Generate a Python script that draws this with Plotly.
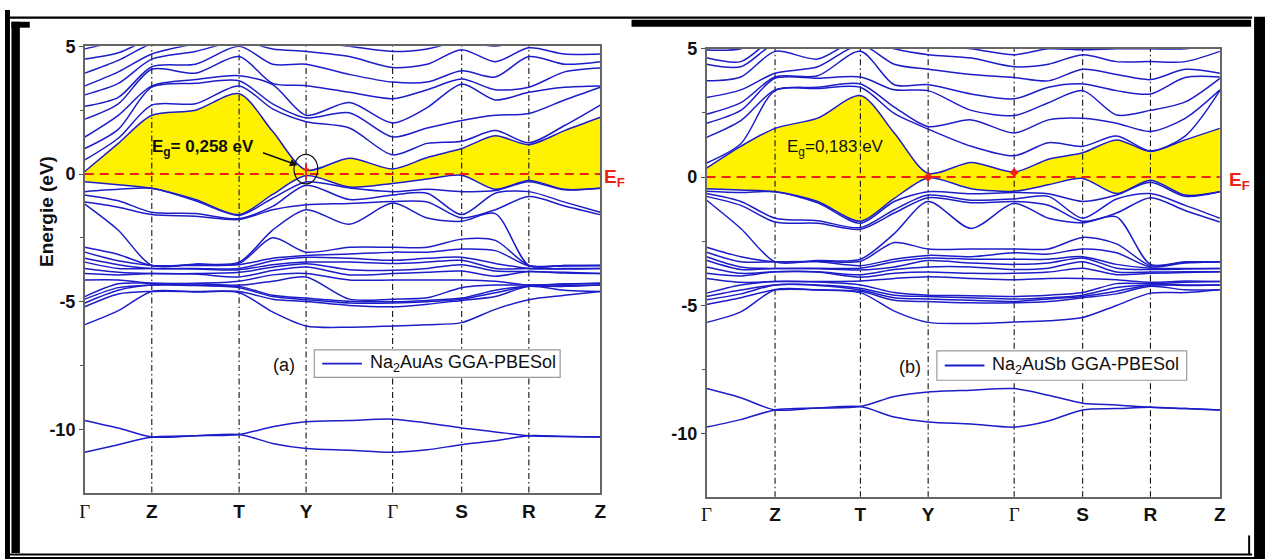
import plotly.graph_objects as go

W, H = 1271, 559

# ---------------- data ----------------
k_labels = ["Γ", "Z", "T", "Y", "Γ", "S", "R", "Z"]
k_path_a = [0, 0.675, 1.555, 2.23, 3.102, 3.798, 4.475, 5.195]
k_path_b = [0, 0.69, 1.55, 2.233, 3.10, 3.79, 4.473, 5.173]

# energies (eV) sampled at Γ, mid, Z, mid, T, mid, Y, mid, Γ, mid, S, mid, R, mid, Z
cond_a = [
    [0.10, 0.55, 1.00, 1.45, 2.15, 2.65, 3.10, 3.45, 3.95, 4.50, 4.90],
    [1.20, 1.40, 1.75, 2.30, 2.75, 3.00, 3.55, 4.00, 4.45, 4.75, 5.20],
    [2.30, 2.70, 3.40, 3.45, 4.10, 4.20, 4.50, 4.70, 5.10, 5.30, 5.50],
    [2.50, 2.75, 3.55, 3.70, 3.95, 4.30, 4.80, 5.10, 5.30, 5.50, 5.70],
    [3.14, 3.45, 3.65, 3.85, 4.60, 5.00, 5.20, 5.40, 5.60, 5.80, 6.00],
    [1.67, 2.55, 2.75, 3.50, 3.55, 4.30, 4.90, 5.30, 5.50, 5.70, 6.00],
    [0.15, 2.05, 2.20, 2.30, 3.46, 4.30, 4.80, 5.20, 5.40, 5.60, 6.00],
    [0.62, 1.80, 2.40, 2.80, 3.20, 3.90, 4.60, 5.00, 5.30, 5.60, 6.00],
    [0.20, 0.75, 1.45, 2.00, 2.95, 3.60, 4.17, 4.80, 5.20, 5.50, 6.00],
    [0.65, 1.20, 1.80, 2.60, 3.30, 3.60, 4.30, 4.90, 5.20, 5.50, 6.00],
    [1.00, 1.28, 2.10, 3.52, 3.72, 4.04, 4.87, 5.20, 5.40, 5.60, 6.00],
    [1.50, 1.70, 2.30, 2.90, 3.30, 3.80, 4.40, 5.00, 5.30, 5.60, 6.00],
    [1.15, 1.22, 2.37, 3.20, 3.40, 4.60, 4.94, 5.30, 5.50, 5.70, 6.00],
    [1.70, 1.90, 2.90, 3.40, 4.00, 4.30, 4.70, 5.10, 5.30, 5.60, 6.00],
    [2.22, 2.70, 3.40, 3.45, 4.15, 4.40, 4.70, 5.10, 5.30, 5.50, 6.00],
]
val_a = [
    [-0.30, -0.69, -0.82, -1.10, -1.18, -2.87, -3.06, -3.30, -3.45, -3.70, -3.90, -4.15, -4.80, -4.90, -5.05, -5.20, -5.90],
    [-0.42, -0.60, -1.05, -1.30, -2.20, -3.15, -3.40, -3.55, -3.70, -3.85, -3.95, -4.15, -4.30, -4.45, -4.55, -4.70, -5.35],
    [-0.56, -0.56, -1.50, -1.59, -3.58, -3.58, -3.58, -3.70, -3.70, -3.90, -3.90, -4.28, -4.28, -4.35, -4.35, -4.60, -4.60],
    [-1.00, -1.05, -1.55, -1.65, -3.52, -3.55, -3.58, -3.70, -3.72, -3.90, -3.92, -4.28, -4.30, -4.35, -4.37, -4.60, -4.62],
    [-1.59, -1.62, -1.75, -1.78, -3.45, -3.50, -3.55, -3.70, -3.75, -3.85, -4.03, -4.20, -4.35, -4.40, -4.45, -4.60, -4.65],
    [-0.80, -0.95, -1.27, -1.40, -2.20, -2.50, -3.30, -3.40, -3.55, -3.65, -3.78, -3.95, -4.20, -4.75, -4.80, -4.90, -5.40],
    [-0.06, -0.31, -0.44, -1.20, -1.40, -3.06, -3.19, -3.26, -3.45, -3.51, -3.64, -3.90, -4.03, -4.86, -4.92, -4.99, -5.95],
    [-0.51, -0.55, -1.00, -1.15, -1.97, -2.87, -3.13, -3.30, -3.45, -3.75, -3.95, -4.15, -4.90, -4.98, -5.05, -5.15, -6.00],
    [-0.37, -0.69, -0.82, -1.08, -1.14, -2.87, -3.06, -3.38, -3.50, -3.77, -3.90, -4.15, -4.90, -5.00, -5.05, -5.20, -5.95],
    [-0.20, -0.60, -0.75, -1.10, -1.72, -2.87, -3.06, -3.30, -3.45, -3.70, -3.85, -4.15, -4.85, -4.95, -5.00, -5.10, -5.90],
    [-0.05, -0.69, -1.59, -1.72, -1.85, -2.55, -2.94, -3.26, -3.38, -3.55, -3.80, -4.15, -4.45, -4.86, -4.90, -4.95, -5.82],
    [-0.60, -0.65, -0.75, -1.40, -1.55, -2.60, -3.00, -3.50, -3.70, -3.80, -4.00, -4.20, -4.35, -4.55, -4.65, -4.80, -5.30],
    [-0.25, -0.30, -0.69, -0.88, -3.58, -3.58, -3.60, -3.70, -3.70, -3.82, -3.82, -4.35, -4.35, -4.40, -4.40, -4.40, -4.92],
    [-0.60, -0.62, -1.10, -1.25, -3.58, -3.58, -3.60, -3.70, -3.72, -3.85, -3.88, -4.30, -4.32, -4.38, -4.40, -4.55, -4.75],
    [-0.56, -0.56, -1.50, -1.59, -3.58, -3.58, -3.58, -3.70, -3.70, -3.90, -3.90, -4.28, -4.28, -4.35, -4.35, -4.60, -4.60],
]
core_a = [
    [-9.65, -9.95, -10.30, -10.25, -10.20, -9.90, -9.70, -9.65, -9.60, -9.75, -9.95, -10.10, -10.25, -10.28, -10.30],
    [-10.90, -10.60, -10.30, -10.25, -10.20, -10.55, -10.75, -10.82, -10.90, -10.80, -10.60, -10.45, -10.25, -10.28, -10.30],
]

cond_b = [
    [0.35, 0.55, 1.55, 2.10, 2.45, 3.10, 3.75, 4.40, 4.65, 4.95, 5.30],
    [1.20, 1.30, 2.20, 2.60, 2.90, 3.40, 3.90, 4.30, 4.50, 5.00, 5.40],
    [1.90, 3.37, 3.40, 3.85, 3.90, 4.05, 4.90, 5.20, 5.40, 5.60, 5.80],
    [2.30, 3.45, 3.50, 3.85, 3.95, 4.30, 4.60, 5.20, 5.40, 5.60, 5.80],
    [3.18, 3.50, 3.63, 3.90, 4.90, 5.15, 5.40, 5.60, 5.80, 6.00, 6.20],
    [1.72, 2.48, 2.73, 3.40, 3.60, 4.40, 5.00, 5.40, 5.60, 5.80, 6.00],
    [0.15, 1.87, 1.97, 3.37, 3.60, 4.20, 4.77, 5.20, 5.50, 5.80, 6.00],
    [0.57, 1.20, 2.23, 2.60, 3.24, 4.00, 4.64, 5.00, 5.40, 5.70, 6.00],
    [0.20, 0.83, 1.72, 2.40, 3.05, 3.88, 4.30, 4.77, 5.20, 5.50, 6.00],
    [0.70, 1.34, 2.23, 2.90, 3.50, 3.75, 4.40, 5.00, 5.30, 5.60, 6.00],
    [0.95, 1.20, 2.29, 3.37, 3.63, 4.20, 4.77, 4.96, 5.30, 5.60, 6.00],
    [1.45, 1.60, 2.10, 2.42, 3.37, 4.00, 4.50, 5.00, 5.30, 5.60, 6.00],
    [1.00, 1.02, 1.78, 2.60, 3.24, 3.80, 4.50, 5.00, 5.30, 5.60, 6.00],
    [1.45, 1.60, 2.29, 2.93, 3.88, 4.20, 4.50, 5.00, 5.30, 5.60, 6.00],
    [1.90, 3.37, 3.40, 3.85, 3.90, 4.05, 4.90, 5.20, 5.40, 5.60, 5.80],
]
val_b = [
    [-0.45, -0.55, -0.64, -0.75, -0.90, -2.73, -2.93, -3.10, -3.24, -3.50, -3.75, -3.95, -4.52, -4.65, -4.78, -4.96, -5.66],
    [-0.50, -0.60, -0.95, -1.10, -2.00, -3.10, -3.30, -3.50, -3.60, -3.75, -3.85, -4.10, -4.20, -4.40, -4.55, -4.70, -5.25],
    [-0.57, -0.57, -1.60, -1.75, -3.30, -3.30, -3.30, -3.56, -3.56, -3.69, -3.69, -4.07, -4.07, -4.20, -4.20, -4.39, -4.39],
    [-0.95, -1.00, -1.70, -1.80, -3.25, -3.28, -3.30, -3.55, -3.57, -3.69, -3.70, -4.07, -4.09, -4.20, -4.22, -4.39, -4.40],
    [-1.72, -1.80, -1.97, -2.03, -3.20, -3.28, -3.45, -3.55, -3.62, -3.80, -3.90, -4.05, -4.20, -4.33, -4.40, -4.45, -4.50],
    [-0.83, -0.95, -1.27, -1.40, -2.20, -2.55, -3.20, -3.30, -3.50, -3.60, -3.75, -3.95, -4.50, -4.60, -4.70, -4.80, -5.22],
    [-0.03, -0.57, -0.70, -0.80, -0.95, -2.80, -3.05, -3.15, -3.25, -3.50, -3.70, -3.88, -4.60, -4.65, -4.75, -4.85, -5.66],
    [-0.45, -0.65, -0.90, -1.00, -2.00, -2.80, -3.10, -3.20, -3.35, -3.50, -3.75, -3.95, -4.62, -4.70, -4.80, -4.90, -5.70],
    [-0.55, -0.60, -0.85, -0.95, -1.02, -2.80, -2.95, -3.20, -3.40, -3.60, -3.75, -4.00, -4.65, -4.75, -4.85, -4.90, -5.65],
    [-0.30, -0.65, -0.75, -1.10, -1.60, -2.80, -3.00, -3.20, -3.35, -3.55, -3.70, -3.95, -4.60, -4.70, -4.75, -4.85, -5.60],
    [-0.05, -0.95, -1.60, -1.72, -1.78, -2.35, -2.80, -3.10, -3.15, -3.30, -3.55, -3.95, -4.50, -4.60, -4.65, -4.70, -5.47],
    [-0.64, -0.70, -0.85, -1.40, -1.55, -2.60, -2.95, -3.40, -3.55, -3.70, -3.80, -4.00, -4.15, -4.30, -4.45, -4.55, -5.00],
    [-0.12, -0.20, -0.64, -0.80, -3.40, -3.45, -3.50, -3.55, -3.60, -3.70, -3.75, -4.10, -4.15, -4.20, -4.20, -4.25, -4.52],
    [-0.70, -0.75, -1.10, -1.30, -3.30, -3.32, -3.35, -3.56, -3.58, -3.69, -3.72, -4.05, -4.10, -4.20, -4.22, -4.39, -4.50],
    [-0.57, -0.57, -1.60, -1.75, -3.30, -3.30, -3.30, -3.56, -3.56, -3.69, -3.69, -4.07, -4.07, -4.20, -4.20, -4.39, -4.39],
]
core_b = [
    [-8.24, -8.60, -9.07, -9.00, -8.94, -8.55, -8.37, -8.30, -8.24, -8.50, -8.81, -8.88, -8.97, -9.02, -9.07],
    [-9.74, -9.45, -9.07, -9.00, -8.94, -9.35, -9.54, -9.62, -9.74, -9.50, -9.07, -9.02, -8.97, -9.02, -9.07],
]

y_ticks = [5, 0, -5, -10]
y_minor = [2.5, -2.5, -7.5]
gap_a = "E<sub>g</sub>= 0,258 eV"
gap_b = "E<sub>g</sub>=0,183 eV"
legend_a = "Na<sub>2</sub>AuAs GGA-PBESol"
legend_b = "Na<sub>2</sub>AuSb GGA-PBESol"

# ---------------- styling ----------------
BLUE = "#1c1cc8"
YELLOW = "#fff200"
RED = "#ee2211"
SANS = "Liberation Sans Narrow, Liberation Sans, Arial, sans-serif"
SERIF = "Liberation Serif, Times New Roman, serif"


def px(x):
    return x / W


def py(y):
    return 1 - y / H


def samples(kp):
    ks = []
    for i in range(len(kp) - 1):
        ks.append(kp[i])
        ks.append((kp[i] + kp[i + 1]) / 2)
    ks.append(kp[-1])
    return ks


fig = go.Figure()


def add_panel(kp, cond, val, core, xr, yr, legend_name):
    ks = samples(kp)
    cb1 = [row[0] for row in cond]
    vb1 = [row[0] for row in val]
    # yellow gap region
    fig.add_trace(go.Scatter(x=ks, y=vb1, mode="lines", line=dict(width=0, shape="spline", smoothing=0.8),
                             xaxis=xr, yaxis=yr, showlegend=False, hoverinfo="skip"))
    fig.add_trace(go.Scatter(x=ks, y=cb1, mode="lines", fill="tonexty", fillcolor=YELLOW,
                             line=dict(width=0, shape="spline", smoothing=0.8),
                             xaxis=xr, yaxis=yr, showlegend=False, hoverinfo="skip"))
    # high-symmetry vertical lines
    for kv in kp[1:-1]:
        fig.add_trace(go.Scatter(x=[kv, kv], y=[-13, 5], mode="lines",
                                 line=dict(color="#111", width=1.1, dash="6px,3px,1.5px,3px"),
                                 xaxis=xr, yaxis=yr, showlegend=False, hoverinfo="skip"))
    # bands
    xs, ys = [], []
    for table in (cond, val):
        nb = len(table[0])
        for b in range(nb):
            xs += ks + [None]
            ys += [row[b] for row in table] + [None]
    for band in core:
        xs += ks + [None]
        ys += list(band) + [None]
    fig.add_trace(go.Scatter(x=xs, y=ys, mode="lines", name=legend_name,
                             line=dict(color=BLUE, width=1.5, shape="spline", smoothing=0.8),
                             xaxis=xr, yaxis=yr, showlegend=False,
                             connectgaps=False, hoverinfo="skip"))
    # Fermi level
    fig.add_trace(go.Scatter(x=[kp[0], kp[-1]], y=[0, 0], mode="lines",
                             line=dict(color=RED, width=2, dash="9px,6px"),
                             xaxis=xr, yaxis=yr, showlegend=False, hoverinfo="skip"))


add_panel(k_path_a, cond_a, val_a, core_a, "x", "y", legend_a)
add_panel(k_path_b, cond_b, val_b, core_b, "x2", "y2", legend_b)

# markers at gap points
fig.add_trace(go.Scatter(x=[k_path_a[3], k_path_a[3], None, k_path_a[3] - 0.03, k_path_a[3] + 0.03],
                         y=[-0.2, 0.4, None, 0.18, 0.18], mode="lines",
                         line=dict(color=RED, width=2), xaxis="x", yaxis="y",
                         showlegend=False, hoverinfo="skip"))
fig.add_trace(go.Scatter(x=[k_path_b[3], k_path_b[4]], y=[0.0, 0.18], mode="markers",
                         marker=dict(color=RED, size=7, symbol="diamond"), xaxis="x2", yaxis="y2",
                         showlegend=False, hoverinfo="skip"))


def x_ticktext():
    out = []
    for lab in k_labels:
        if lab == "Γ":
            out.append(f"<span style='font-family:{SERIF};font-weight:normal'>Γ</span>")
        else:
            out.append(f"<b>{lab}</b>")
    return out


def xaxis(dom, kp, anchor):
    return dict(domain=dom, range=[kp[0], kp[-1]], tickmode="array", tickvals=kp,
                ticktext=x_ticktext(), ticks="", showgrid=False, zeroline=False,
                showline=True, mirror=True, linecolor="#666", linewidth=1.6, anchor=anchor,
                tickfont=dict(family=SANS, size=19, color="#111"))


def yaxis(dom, rng, anchor):
    return dict(domain=dom, range=rng, tickmode="array", tickvals=y_ticks,
                ticktext=[f"<b>{v}</b>" for v in y_ticks], ticks="outside", ticklen=4,
                tickcolor="#555", showgrid=False, zeroline=False, showline=True, mirror=True,
                linecolor="#666", linewidth=1.6, anchor=anchor,
                tickfont=dict(family=SANS, size=18, color="#111"),
                minor=dict(tickmode="array", tickvals=y_minor, ticks="outside", ticklen=3,
                           tickcolor="#555"))


shapes = []
black = dict(type="rect", xref="paper", yref="paper", fillcolor="black", line=dict(width=0), layer="above")


def rect(x0, y0, x1, y1):
    d = dict(black)
    d.update(x0=px(x0), x1=px(x1), y0=py(y1), y1=py(y0))
    shapes.append(d)


rect(0, 0, 5, H)
rect(6.5, 12, 15, 553)
rect(6.5, 12, 25, 18)
rect(5, 6.5, 1258, 9)
rect(632, 10, 1257, 17)
rect(1260, 7, W, H)
rect(0, 553.5, 1258, 555.5)
rect(0, 557, W, H)
rect(1254, 535, 1256, 555)

# circle around the gap in panel (a)
shapes.append(dict(type="circle", xref="paper", yref="paper", x0=px(291.5), x1=px(315.5),
                   y0=py(177), y1=py(147), line=dict(color="#111", width=1.2)))


def note(text, x, y, size, color="#111", angle=0, anchor="center"):
    return dict(text=text, x=px(x), y=py(y), xref="paper", yref="paper", xanchor=anchor,
                yanchor="middle", textangle=angle, showarrow=False,
                font=dict(family=SANS, size=size, color=color))


annotations = [
    note("<b>Energie (eV)</b>", 42, 205, 19, angle=-90),
    note("<b>" + gap_a + "</b>", 200, 141, 17),
    dict(text="", x=px(295), y=py(158), xref="paper", yref="paper", ax=-36, ay=-13,
         showarrow=True, arrowhead=2, arrowsize=1, arrowwidth=1.5, arrowcolor="#111"),
    note(gap_b, 838, 141, 17),
    note("<b>E<sub>F</sub></b>", 615, 171, 19, color=RED),
    note("<b>E<sub>F</sub></b>", 1245, 174, 19, color=RED),
    note("(a)", 281, 361, 18),
    note("(b)", 913, 363, 18),
]


# legends drawn as boxes with a line sample and a label
def add_legend(x0, y0, x1, y1, label):
    shapes.append(dict(type="rect", xref="paper", yref="paper", x0=px(x0), x1=px(x1),
                       y0=py(y1), y1=py(y0), fillcolor="white", line=dict(color="#999", width=1.2)))
    ym = (y0 + y1) / 2
    shapes.append(dict(type="line", xref="paper", yref="paper", x0=px(x0 + 8), x1=px(x0 + 48),
                       y0=py(ym), y1=py(ym), line=dict(color=BLUE, width=1.8)))
    annotations.append(note(label, x0 + 54, ym, 18, anchor="left"))


add_legend(312, 346, 560, 374, legend_a)
add_legend(940, 347, 1192, 377, legend_b)

fig.update_layout(
    width=W, height=H, margin=dict(l=0, r=0, t=0, b=0),
    paper_bgcolor="white", plot_bgcolor="white", showlegend=False,
    xaxis=xaxis([px(80.5), px(600.5)], k_path_a, "y"),
    yaxis=yaxis([py(492), py(37)], [-12.5, 5], "x"),
    xaxis2=xaxis([px(707.7), px(1225.5)], k_path_b, "y2"),
    yaxis2=yaxis([py(495.5), py(39.5)], [-12.45, 5], "x2"),
    shapes=shapes, annotations=annotations,
)

fig.write_html("out.html", config={"displayModeBar": False},
               post_script="document.body.style.margin='0px';document.body.style.overflow='hidden';")
